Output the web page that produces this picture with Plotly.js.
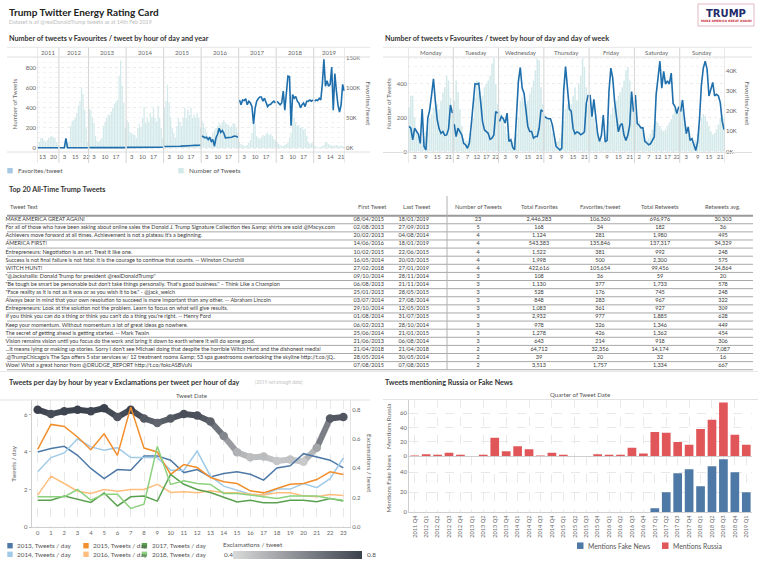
<!DOCTYPE html>
<html>
<head>
<meta charset="utf-8">
<script src="https://cdn.plot.ly/plotly-3.0.1.min.js"></script>
<style>
html,body{margin:0;padding:0;background:#fff;}
#chart{width:758px;height:569px;}
</style>
</head>
<body>
<div id="chart"></div>
<script>
// ================= DATA =================
// --- Chart 1: by hour of day and year
const years = ['2011','2012','2013','2014','2015','2016','2017','2018','2019'];
const allHours = [0,1,2,3,4,5,6,7,8,9,10,11,12,13,14,15,16,17,18,19,20,21,22,23];
const hours2011 = [10,11,12,13,14,15,16,17,18,19,20,21,22,23];
const hours2012 = [0,1,2,3,9,10,11,12,13,14,15,16,17,18,19,20,21,22,23];
const hours2019 = [0,1,2,3,8,9,10,11,12,13,14,15,16,17,18,19,20,21,22,23];
const yearHours = [hours2011, hours2012, allHours, allHours, allHours, allHours, allHours, allHours, hours2019];
const yearTickHours = [[13,20],[3,15,22],[3,10,17],[3,10,17],[3,10,17],[3,10,17],[3,10,17],[3,10,17],[3,14,21]];

const tweets2011 = [20,60,100,100,80,60,80,100,110,120,110,100,60,30];
const tweets2012 = [15,10,8,5,30,40,60,220,270,280,300,350,420,470,600,540,380,200,60];
const tweets2013 = [390,380,300,250,120,70,60,80,100,220,260,300,330,330,360,400,440,460,480,720,870,620,450,200];
const tweets2014 = [280,250,160,150,140,130,100,200,240,200,300,410,250,300,260,350,310,400,300,260,420,300,200,100];
const tweets2015 = [400,470,630,450,300,200,150,100,220,300,260,220,300,400,300,380,330,400,300,330,300,350,300,200];
const tweets2016 = [270,250,200,150,120,100,110,150,180,200,220,250,230,260,280,250,240,230,210,220,250,240,200,150];
const tweets2017 = [60,40,30,20,20,30,50,80,150,250,240,120,100,90,110,130,120,140,150,130,140,120,90,70];
const tweets2018 = [60,40,30,20,20,30,40,60,100,150,330,300,250,220,230,200,210,180,190,120,60,40,50,60];
const tweets2019 = [20,15,10,8,10,20,30,60,55,40,30,25,20,25,30,25,20,25,20,15];
const yearTweets = [tweets2011,tweets2012,tweets2013,tweets2014,tweets2015,tweets2016,tweets2017,tweets2018,tweets2019];

const favs2011 = [400,450,500,450,400,450,500,450,400,450,500,450,400,450];
const favs2012 = [400,400,400,500,16000,600,500,500,500,500,500,500,500,500,500,500,500,500,500];
const favs2013 = [700,700,650,600,600,600,600,700,700,700,700,700,700,700,700,700,700,700,700,700,700,700,700,700];
const favs2014 = [1000,1000,1000,1000,1000,1000,1000,1100,1100,1100,1100,1100,1200,1200,1200,1200,1200,1200,1200,1200,1300,1300,1300,1300];
const favs2015 = [2500,2500,2000,2200,2000,1800,2000,2500,2800,3000,3000,3200,3500,3500,3800,4000,4000,4200,4200,4300,4500,4300,4400,4500];
const favs2016 = [20000,19000,17000,18000,14000,18000,11000,14000,3000,17000,23000,33000,26000,29000,25000,17000,17000,18000,18000,18000,19000,20000,19000,18000];
const favs2017 = [80000,72000,80000,79000,82000,72000,78000,75000,69000,40000,66000,78000,82000,85000,85000,78000,83000,75000,69000,72000,73000,76000,78000,75000];
const favs2018 = [78000,75000,72000,75000,95000,63000,89000,120000,119000,37000,89000,83000,86000,78000,75000,67000,72000,75000,69000,78000,78000,80000,78000,80000];
const favs2019 = [78000,80000,79000,83000,80000,106000,148000,103000,112000,103000,106000,135000,63000,124000,95000,72000,60000,72000,106000,95000];
const yearFavs = [favs2011,favs2012,favs2013,favs2014,favs2015,favs2016,favs2017,favs2018,favs2019];

// --- Chart 2: by hour of day and day of week
const dayNames = ['Monday','Tuesday','Wednesday','Thursday','Friday','Saturday','Sunday'];
const dayTickHours = [[3,9,15,21],[2,7,12,17,22],[3,9,15,21],[3,9,15,21],[3,9,15,21],[2,7,12,17,22],[3,9,15,21]];
const tweetsMon = [260,330,330,200,130,100,80,70,90,120,150,200,220,260,300,280,250,300,350,380,450,420,320,250];
const tweetsTue = [300,420,350,250,150,80,60,60,80,110,200,320,420,350,300,330,380,400,420,450,520,550,400,280];
const tweetsWed = [240,220,200,150,100,70,50,60,80,100,200,300,320,300,280,300,340,380,420,480,550,540,380,280];
const tweetsThu = [220,200,200,160,110,80,60,60,80,100,180,250,280,300,280,330,380,300,400,450,550,500,380,280];
const tweetsFri = [240,230,200,150,100,70,60,60,80,100,180,220,260,280,300,330,350,380,420,480,500,420,320,260];
const tweetsSat = [230,200,180,150,110,80,70,80,100,130,160,180,170,150,130,120,130,150,170,190,220,250,250,230];
const tweetsSun = [300,250,200,150,100,70,60,60,70,100,150,200,220,210,180,150,120,100,110,130,160,200,220,200];
const dayTweets = [tweetsMon,tweetsTue,tweetsWed,tweetsThu,tweetsFri,tweetsSat,tweetsSun];
const favsMon = [12400,11500,5800,11500,10000,8600,4000,21000,2500,800,16500,20600,28000,36000,24800,15700,11200,9000,9900,8000,8200,11200,23000,19000];
const favsTue = [13500,7400,11500,9900,8200,4000,3300,1600,4000,13000,23000,33500,33300,33800,24700,14800,10700,9900,9000,6000,6600,8200,19800,19000];
const favsWed = [14900,17300,16200,14000,19000,5000,5800,2000,800,21500,34600,41600,31400,28900,19000,12400,9900,9900,6600,7400,7400,11500,20600,19800];
const favsThu = [17300,16500,16200,16200,13200,7400,2500,1600,800,1600,30000,42000,33000,21000,20000,11300,8800,9700,9300,8300,8800,9700,23800,28000];
const favsFri = [28000,17200,25800,16300,8800,5000,8000,18000,4700,5500,29700,41300,36300,24700,16300,9700,13000,13800,8000,5500,8000,13000,29700,19700];
const favsSat = [28000,13800,13000,11700,11700,5000,4300,3300,3800,5500,7200,28000,36300,44700,31300,39700,33300,35000,33300,38800,23800,22200,18800,22200];
const favsSun = [19700,25500,16300,8800,12200,5500,6300,3000,500,4700,16300,33000,41300,44700,40800,27500,30800,34200,27500,28300,27500,24200,15000,10800];
const dayFavs = [favsMon,favsTue,favsWed,favsThu,favsFri,favsSat,favsSun];

// --- Table: Top 20 all-time tweets
const tweetText = [
 "MAKE AMERICA GREAT AGAIN!",
 "For all of those who have been asking about online sales the Donald J. Trump Signature Collection ties &amp; shirts are sold @Macys.com",
 "Achievers move forward at all times. Achievement is not a plateau it's a beginning.",
 "AMERICA FIRST!",
 "Entrepreneurs: Negotiation is an art. Treat it like one.",
 "Success is not final failure is not fatal: it is the courage to continue that counts. -- Winston Churchill",
 "WITCH HUNT!",
 "\"@Jackshallis: Donald Trump for president @realDonaldTrump\"",
 "\"Be tough be smart be personable but don't take things personally. That's good business.\" – Think Like a Champion",
 "\"Face reality as it is not as it was or as you wish it to be.\" - @jack_welch",
 "Always bear in mind that your own resolution to succeed is more important than any other. -- Abraham Lincoln",
 "Entrepreneurs: Look at the solution not the problem. Learn to focus on what will give results.",
 "If you think you can do a thing or think you can't do a thing you're right. -- Henry Ford",
 "Keep your momentum. Without momentum a lot of great ideas go nowhere.",
 "The secret of getting ahead is getting started. -- Mark Twain",
 "Vision remains vision until you focus do the work and bring it down to earth where it will do some good.",
 "...it means lying or making up stories. Sorry I don't see Michael doing that despite the horrible Witch Hunt and the dishonest media!",
 ".@TrumpChicago's The Spa offers 5 star services w/ 12 treatment rooms &amp; 53 spa guestrooms overlooking the skyline http://t.co/jQ..",
 "Wow! What a great honor from @DRUDGE_REPORT http://t.co/fokcASBVuN"
];
const firstTweet = ["08/04/2015","02/08/2013","20/02/2013","14/06/2016","10/02/2015","16/05/2014","27/02/2018","09/10/2014","06/08/2013","25/01/2013","03/07/2014","29/10/2014","01/08/2014","06/02/2013","25/06/2014","21/06/2013","21/04/2018","28/05/2014","07/08/2015"];
const lastTweet = ["18/01/2019","27/09/2013","04/08/2014","18/01/2019","22/06/2015","20/03/2015","27/01/2019","28/11/2014","21/11/2014","28/05/2015","27/08/2014","12/05/2015","31/07/2015","28/10/2014","21/01/2015","06/08/2014","21/04/2018","30/05/2014","07/08/2015"];
const numTweets = [23,5,4,4,4,4,4,3,3,3,3,3,3,3,3,3,2,2,2];
const totalFavorites = [2446283,168,1124,543383,1522,1998,422616,108,1130,528,848,1083,2932,978,1278,643,64712,39,3513];
const favoritesPerTweet = [106360,34,281,135846,381,500,105654,36,377,176,283,361,977,326,426,214,32356,20,1757];
const totalRetweets = [696976,182,1980,137317,992,2300,99456,59,1733,745,967,927,1885,1346,1362,918,14174,32,1334];
const retweetsAvg = [30303,36,495,34329,248,575,24864,20,578,248,322,309,628,449,454,306,7087,16,667];
const tableHeaders = ['Tweet Text','First Tweet','Last Tweet','Number of Tweets','Total Favorites','Favorites/tweet','Total Retweets','Retweets avg.'];

// --- Chart 3: tweets per day by hour by year, and exclamations per tweet
const hoursOfDay = allHours;
const exclamationsPerTweet = [0.80,0.77,0.79,0.80,0.79,0.81,0.75,0.80,0.74,0.71,0.74,0.77,0.76,0.72,0.62,0.51,0.475,0.48,0.45,0.46,0.445,0.54,0.74,0.75];
const perDay2013 = [4.0,4.18,4.3,3.82,3.12,2.58,3.06,3.03,3.79,3.79,3.56,2.9,3.06,2.67,2.85,2.94,2.81,2.5,3.15,3.26,3.91,3.73,3.56,3.15];
const perDay2014 = [2.94,3.7,3.95,4.7,4.27,4.09,4.23,3.7,3.7,3.7,3.03,3.03,4.05,2.71,2.18,1.96,1.75,1.7,2.02,2.02,2.32,2.1,2.58,3.68];
const perDay2015 = [4.14,5.47,5.36,4.8,4.12,4.97,3.82,6.39,4.21,4.0,2.81,3.33,3.17,2.64,2.41,2.32,1.93,1.82,2.05,2.28,2.32,2.53,2.94,2.8];
const perDay2016 = [1.7,2.71,2.32,1.91,1.79,2.0,1.91,2.0,2.0,2.28,1.84,1.88,1.82,1.93,1.82,1.82,1.75,1.7,1.82,1.82,1.66,1.61,1.73,1.68];
const perDay2017 = [1.43,1.43,1.65,1.47,1.31,1.82,1.12,1.61,1.65,1.38,2.81,2.28,2.0,1.84,1.58,1.33,1.43,1.29,1.29,1.43,1.43,1.35,1.52,1.38];
const perDay2018 = [1.61,1.61,1.61,2.0,1.43,1.75,1.75,0.99,1.22,4.3,2.27,2.46,2.32,2.27,1.79,1.79,1.7,1.65,1.52,1.65,1.65,1.65,1.52,1.43];
const perDayNames = ['2013, Tweets / day','2014, Tweets / day','2015, Tweets / day','2016, Tweets / day','2017, Tweets / day','2018, Tweets / day'];
const perDaySeries = [perDay2013,perDay2014,perDay2015,perDay2016,perDay2017,perDay2018];
const perDayColors = ['#4e79a7','#a0cbe8','#f28e2b','#ffbe7d','#59a14f','#8cd17d'];

// --- Chart 4: Russia / Fake News mentions by quarter
const quarters = ['2011 Q4','2012 Q1','2012 Q2','2012 Q3','2012 Q4','2013 Q1','2013 Q2','2013 Q3','2013 Q4','2014 Q1','2014 Q2','2014 Q3','2014 Q4','2015 Q1','2015 Q2','2015 Q3','2015 Q4','2016 Q1','2016 Q2','2016 Q3','2016 Q4','2017 Q1','2017 Q2','2017 Q3','2017 Q4','2018 Q1','2018 Q2','2018 Q3','2018 Q4','2019 Q1'];
const mentionsRussia = [1,3,2,5,2,0,2,26,7,14,10,1,5,2,0,0,3,2,2,12,4,34,33,20,16,38,51,75,30,16];
const mentionsFakeNews = [0,0,0,0,0,0,0,0,0,0,0,0,0,0,0,0,0,0,0,0,0,4,20,39,43,26,46,53,40,20];

// ================= BUILD =================
const F = 'Lato, "Open Sans", sans-serif';
const W = 758, H = 569;
const px = v => v / W;
const py = v => 1 - v / H;
const tickFont = {family: F, size: 5.9, color: '#666'};
const axisTitleFont = {family: F, size: 6.3, color: '#666'};
const legendFont = {family: F, size: 6.4, color: '#555'};
const traces = [], shapes = [], annotations = [];

function note(text, x, y, o) {
  annotations.push(Object.assign({text: text, x: px(x), y: py(y), xref: 'paper', yref: 'paper', showarrow: false,
    xanchor: 'left', yanchor: 'middle', font: {family: F, size: 5.6, color: '#555'}}, o || {}));
}
function hline(x0, x1, y, color, width) {
  shapes.push({type: 'line', xref: 'paper', yref: 'paper', x0: px(x0), x1: px(x1), y0: py(y), y1: py(y), line: {color: color, width: width || 1}});
}
function vline(x, y0, y1, color, width) {
  shapes.push({type: 'line', xref: 'paper', yref: 'paper', x0: px(x), x1: px(x), y0: py(y0), y1: py(y1), line: {color: color, width: width || 1}});
}
function swatch(x, y, s, color) {
  shapes.push({type: 'rect', xref: 'paper', yref: 'paper', x0: px(x), x1: px(x + s), y0: py(y + s / 2), y1: py(y - s / 2), fillcolor: color, line: {width: 0}});
}

// Header
note('<b>Trump Twitter Energy Rating Card</b>', 6.5, 12, {font: {family: F, size: 10, color: '#222'}});
note('Dataset is all @realDonaldTrump tweets as at 14th Feb 2019', 6.5, 21.5, {font: {family: F, size: 5.4, color: '#bdbdbd'}});
shapes.push({type: 'rect', xref: 'paper', yref: 'paper', x0: px(698), x1: px(754), y0: py(26), y1: py(4), line: {color: '#dcaab2', width: 0.8}, fillcolor: '#fff'});
note('<b>TRUMP</b>', 726, 13.5, {xanchor: 'center', font: {family: 'DejaVu Sans, sans-serif', size: 10, color: '#1f2b6b'}});
note('<b>MAKE AMERICA GREAT AGAIN!</b>', 726, 21, {xanchor: 'center', font: {family: 'DejaVu Sans, sans-serif', size: 3, color: '#c8283c'}});

// Section titles
const titleFont = {family: F, size: 7.2, color: '#333'};
note('<b>Number of tweets v Favourites / tweet by hour of day and year</b>', 6.5, 38.5, {font: titleFont});
note('<b>Number of tweets v Favourites / tweet by hour of day and day of week</b>', 382.5, 38.5, {font: titleFont});
note('<b>Top 20 All-Time Trump Tweets</b>', 6.5, 189.5, {font: titleFont});
note('<b>Tweets per day by hour by year v Exclamations per tweet per hour of day</b>', 6.5, 382, {font: titleFont});
note('<i>(2019 not enough data)</i>', 252.5, 382.3, {font: {family: F, size: 4.8, color: '#c4c4c4'}});
note('<b>Tweets mentioning Russia or Fake News</b>', 382.5, 382, {font: titleFont});
hline(0, 758, 371.5, '#e8e8e8', 1);

// ---- Chart 1
let pos = 0;
const c1x = [], c1y = [], c1lx = [], c1ly = [], c1tv = [], c1tt = [];
years.forEach((yr, i) => {
  const start = pos;
  shapes.push({type: 'line', xref: 'x', yref: 'paper', x0: start - 0.5, x1: start - 0.5, y0: py(163), y1: py(47), line: {color: '#d4d4d4', width: 1}});
  yearHours[i].forEach((h, j) => {
    c1x.push(pos); c1y.push(yearTweets[i][j]);
    c1lx.push(pos); c1ly.push(yearFavs[i][j]);
    if (yearTickHours[i].indexOf(h) >= 0) { c1tv.push(pos); c1tt.push(String(h)); }
    pos++;
  });
  c1lx.push(null); c1ly.push(null);
  annotations.push({text: yr, xref: 'x', yref: 'paper', x: (start + pos - 1) / 2, y: py(52.3), showarrow: false, yanchor: 'middle', font: {family: F, size: 6, color: '#666'}});
});
const n1 = pos;
shapes.push({type: 'line', xref: 'x', yref: 'paper', x0: n1 - 0.5, x1: n1 - 0.5, y0: py(163), y1: py(47), line: {color: '#d4d4d4', width: 1}});
traces.push({type: 'bar', x: c1x, y: c1y, xaxis: 'x', yaxis: 'y', width: 0.8, marker: {color: '#d3e9ea', line: {width: 0}}, name: 'Number of Tweets', hoverinfo: 'skip'});
traces.push({type: 'scatter', mode: 'lines', x: c1lx, y: c1ly, xaxis: 'x', yaxis: 'y2', connectgaps: false, line: {color: '#1f6fad', width: 1.6}, name: 'Favorites/tweet', hoverinfo: 'skip'});
hline(7, 370, 47.3, '#e6e6e6', 1);
hline(7, 370, 57, '#dedede', 1);
hline(7, 370, 152, '#dedede', 1);
note('Number of Tweets', 13.5, 104, {xanchor: 'center', textangle: -90, font: axisTitleFont});
note('Favorites/tweet', 368.5, 104, {xanchor: 'center', textangle: 90, font: axisTitleFont});
swatch(7.3, 170.7, 5.4, '#a6c8e2'); note('Favorites/tweet', 15.5, 170.7, {font: legendFont});
swatch(178.3, 170.7, 5.4, '#d3e9ea'); note('Number of Tweets', 186.5, 170.7, {font: legendFont});

// ---- Chart 2
pos = 0;
const c2x = [], c2y = [], c2lx = [], c2ly = [], c2tv = [], c2tt = [];
dayNames.forEach((d, i) => {
  const start = pos;
  shapes.push({type: 'line', xref: 'x2', yref: 'paper', x0: start - 0.5, x1: start - 0.5, y0: py(163), y1: py(47), line: {color: '#d4d4d4', width: 1}});
  allHours.forEach((h, j) => {
    c2x.push(pos); c2y.push(dayTweets[i][j]);
    c2lx.push(pos); c2ly.push(dayFavs[i][j]);
    if (dayTickHours[i].indexOf(h) >= 0) { c2tv.push(pos); c2tt.push(String(h)); }
    pos++;
  });
  c2lx.push(null); c2ly.push(null);
  annotations.push({text: d, xref: 'x2', yref: 'paper', x: (start + pos - 1) / 2, y: py(52.3), showarrow: false, yanchor: 'middle', font: {family: F, size: 6, color: '#666'}});
});
const n2 = pos;
shapes.push({type: 'line', xref: 'x2', yref: 'paper', x0: n2 - 0.5, x1: n2 - 0.5, y0: py(163), y1: py(47), line: {color: '#d4d4d4', width: 1}});
traces.push({type: 'bar', x: c2x, y: c2y, xaxis: 'x2', yaxis: 'y3', width: 0.8, marker: {color: '#d3e9ea', line: {width: 0}}, name: 'Number of Tweets', hoverinfo: 'skip'});
traces.push({type: 'scatter', mode: 'lines', x: c2lx, y: c2ly, xaxis: 'x2', yaxis: 'y4', connectgaps: false, line: {color: '#1f6fad', width: 1.6}, name: 'Favorites/tweet', hoverinfo: 'skip'});
hline(383, 752, 47.3, '#e6e6e6', 1);
hline(383, 752, 57, '#dedede', 1);
hline(383, 752, 152.5, '#dedede', 1);
note('Number of Tweets', 388, 104, {xanchor: 'center', textangle: -90, font: axisTitleFont});
note('Favorites/tweet', 747.5, 104, {xanchor: 'center', textangle: 90, font: axisTitleFont});

// ---- Table (text traces on hidden axis; row index = y)
const rowIdx = tweetText.map((t, i) => i);
const colX = [5.5, 353.5, 398.5, 478, 539, 600, 660, 723];
const fmt = v => v.toLocaleString('en-US');
const esc = s => s.replace(/&/g, '&amp;');
const tableCols = [tweetText.map(esc), firstTweet, lastTweet, numTweets.map(fmt), totalFavorites.map(fmt), favoritesPerTweet.map(fmt), totalRetweets.map(fmt), retweetsAvg.map(fmt)];
tableCols.forEach((col, c) => {
  traces.push({type: 'scatter', mode: 'text', x: rowIdx.map(() => colX[c]), y: rowIdx, text: col, xaxis: 'x6', yaxis: 'y9',
    textposition: c < 3 ? 'middle right' : 'middle center', cliponaxis: false, hoverinfo: 'skip',
    textfont: {family: F, size: 5.5, color: '#3a3a3a'}});
});
const headerX = [8, 356, 401, 478, 539, 600, 660, 723];
tableHeaders.forEach((h, c) => note(h, headerX[c], 206.3, {xanchor: c < 3 ? 'left' : 'center', font: {family: F, size: 5.8, color: '#555'}}));
for (let k = 0; k <= tweetText.length; k++) {
  shapes.push({type: 'line', xref: 'paper', yref: 'y9', x0: px(7), x1: px(753), y0: k - 0.5, y1: k - 0.5,
    line: {color: k === 0 ? '#9a9a9a' : '#a9a9a9', width: k === 0 ? 2 : 1}});
}
vline(447, 196, 370, '#b0b0b0', 1);

// ---- Chart 3
const c0 = [218, 218, 218], c1 = [60, 66, 77];
const shade = v => { const t = Math.max(0, Math.min(1, (v - 0.4) / 0.4)); return 'rgb(' + c0.map((a, i) => Math.round(a + (c1[i] - a) * t)).join(',') + ')'; };
for (let i = 0; i < hoursOfDay.length - 1; i++) {
  traces.push({type: 'scatter', mode: 'lines', x: [hoursOfDay[i], hoursOfDay[i + 1]], y: [exclamationsPerTweet[i], exclamationsPerTweet[i + 1]],
    xaxis: 'x3', yaxis: 'y5', line: {color: shade((exclamationsPerTweet[i] + exclamationsPerTweet[i + 1]) / 2), width: 6}, hoverinfo: 'skip'});
}
traces.push({type: 'scatter', mode: 'markers', x: hoursOfDay, y: exclamationsPerTweet, xaxis: 'x3', yaxis: 'y5', name: 'Exclamations / tweet', hoverinfo: 'skip',
  marker: {size: 8.5, color: exclamationsPerTweet, cmin: 0.4, cmax: 0.8, colorscale: [[0, 'rgb(218,218,218)'], [1, 'rgb(60,66,77)']], showscale: true,
    colorbar: {orientation: 'h', x: px(297.5), xanchor: 'center', y: py(554.5), yanchor: 'middle', len: 129, lenmode: 'pixels', thickness: 8,
      outlinewidth: 0, showticklabels: false, ticks: '', xpad: 0, ypad: 0, title: {text: ''}}}});
perDaySeries.forEach((s, i) => {
  traces.push({type: 'scatter', mode: 'lines', x: hoursOfDay, y: s, xaxis: 'x3', yaxis: 'y6', name: perDayNames[i], line: {color: perDayColors[i], width: 1.5}, hoverinfo: 'skip'});
});
note('Tweet Date', 191.5, 395, {xanchor: 'center', font: {family: F, size: 6.1, color: '#555'}});
note('Tweets / day', 12.7, 464, {xanchor: 'center', textangle: -90, font: axisTitleFont});
note('Exclamations / tweet', 370, 463, {xanchor: 'center', textangle: 90, font: axisTitleFont});
hline(0, 370, 400, '#e3e3e3', 1);
const legendPos3 = [[7.3, 545.7], [7.3, 554.3], [83.3, 545.7], [83.3, 554.3], [141.7, 545.7], [141.7, 554.3]];
perDayNames.forEach((nm, i) => { swatch(legendPos3[i][0], legendPos3[i][1], 5.4, perDayColors[i]); note(nm, legendPos3[i][0] + 7.8, legendPos3[i][1], {font: legendFont}); });
note('Exclamations / tweet', 221, 544.7, {font: legendFont});
note('0.4', 222, 554.5, {font: legendFont});
note('0.8', 364.5, 554.5, {font: legendFont});

// ---- Chart 4
traces.push({type: 'bar', x: quarters, y: mentionsRussia, xaxis: 'x5', yaxis: 'y8', name: 'Mentions Russia', width: 0.76, marker: {color: '#e15759', line: {width: 0}}, hoverinfo: 'skip'});
traces.push({type: 'bar', x: quarters, y: mentionsFakeNews, xaxis: 'x4', yaxis: 'y7', name: 'Mentions Fake News', width: 0.76, marker: {color: '#4e79a7', line: {width: 0}}, hoverinfo: 'skip'});
note('Quarter of Tweet Date', 580, 394.5, {xanchor: 'center', font: {family: F, size: 6.1, color: '#555'}});
note('Mentions Russia', 388, 427, {xanchor: 'center', textangle: -90, font: axisTitleFont});
note('Mentions Fake News', 388, 483.5, {xanchor: 'center', textangle: -90, font: axisTitleFont});
hline(383, 758, 399.5, '#e3e3e3', 1);
swatch(577, 545.7, 6.5, '#4e79a7'); note('Mentions Fake News', 586, 545.7, {font: {family: F, size: 6.8, color: '#555'}});
swatch(662, 545.7, 6.5, '#e15759'); note('Mentions Russia', 671, 545.7, {font: {family: F, size: 6.8, color: '#555'}});

// ================= LAYOUT =================
const base = {tickfont: tickFont, zeroline: false, showline: false, fixedrange: true, ticks: ''};
const layout = {
  width: W, height: H, margin: {l: 0, r: 0, t: 0, b: 0}, showlegend: false,
  paper_bgcolor: '#ffffff', plot_bgcolor: 'rgba(0,0,0,0)', font: {family: F, size: 5.6, color: '#666'},
  // chart 1
  xaxis: Object.assign({}, base, {domain: [px(37), px(345)], range: [-0.5, n1 - 0.5], tickvals: c1tv, ticktext: c1tt, showgrid: false, anchor: 'y'}),
  yaxis: Object.assign({}, base, {domain: [py(152), py(57)], range: [-39.8, 906], tickvals: [0, 200, 400, 600, 800], anchor: 'x',
    showgrid: true, gridcolor: '#ececec', griddash: 'dot', gridwidth: 1, minor: {dtick: 50, showgrid: true, gridcolor: '#f3f3f3', griddash: 'dot'}}),
  yaxis2: Object.assign({}, base, {overlaying: 'y', side: 'right', anchor: 'x', range: [-6667, 151667], tickvals: [0, 50000, 100000, 150000], ticktext: ['0K', '50K', '100K', '150K'], showgrid: false}),
  // chart 2
  xaxis2: Object.assign({}, base, {domain: [px(408), px(725)], range: [-0.5, n2 - 0.5], tickvals: c2tv, ticktext: c2tt, showgrid: false, anchor: 'y3'}),
  yaxis3: Object.assign({}, base, {domain: [py(152.5), py(57)], range: [-6, 559], tickvals: [0, 200, 400], anchor: 'x2',
    showgrid: true, gridcolor: '#ececec', griddash: 'dot', minor: {dtick: 50, showgrid: true, gridcolor: '#f3f3f3', griddash: 'dot'}}),
  yaxis4: Object.assign({}, base, {overlaying: 'y3', side: 'right', anchor: 'x2', range: [-500, 46780], tickvals: [0, 10000, 20000, 30000, 40000], ticktext: ['0K', '10K', '20K', '30K', '40K'], showgrid: false}),
  // chart 3
  xaxis3: Object.assign({}, base, {domain: [px(31.7), px(350)], range: [-0.45, 23.5], tickvals: hoursOfDay, anchor: 'y5',
    showgrid: true, gridcolor: '#e2e2e2', griddash: 'dash', gridwidth: 0.8, showline: true, linecolor: '#cfcfcf', linewidth: 1}),
  yaxis5: Object.assign({}, base, {domain: [py(527), py(400)], range: [0, 0.866], tickvals: [0, 0.2, 0.4, 0.6, 0.8], ticktext: ['0.0', '0.2', '0.4', '0.6', '0.8'],
    side: 'right', anchor: 'x3', showgrid: false, showline: true, linecolor: '#e3e3e3'}),
  yaxis6: Object.assign({}, base, {overlaying: 'y5', side: 'left', anchor: 'x3', range: [0, 6.77], tickvals: [0, 2, 4, 6], showgrid: false,
    showline: true, linecolor: '#cfcfcf', ticks: 'outside', ticklen: 2, tickcolor: '#bbb'}),
  // chart 4
  xaxis4: Object.assign({}, base, {type: 'category', categoryorder: 'array', categoryarray: quarters, domain: [px(409), px(752)], range: [-0.5, 29.5],
    anchor: 'y7', tickangle: -90, tickfont: {family: F, size: 5.6, color: '#666'}, showgrid: true, gridcolor: '#e4e4e4', griddash: 'dash', gridwidth: 0.8,
    showline: true, linecolor: '#cfcfcf'}),
  yaxis7: Object.assign({}, base, {domain: [py(512.3), py(456.3)], range: [0, 56], tickvals: [0, 20, 40], anchor: 'x4',
    showgrid: true, gridcolor: '#e8e8e8', griddash: 'dash', showline: true, linecolor: '#cfcfcf'}),
  xaxis5: Object.assign({}, base, {type: 'category', categoryorder: 'array', categoryarray: quarters, domain: [px(409), px(752)], range: [-0.5, 29.5],
    anchor: 'y8', showticklabels: false, showgrid: true, gridcolor: '#e4e4e4', griddash: 'dash', gridwidth: 0.8, showline: true, linecolor: '#cfcfcf'}),
  yaxis8: Object.assign({}, base, {domain: [py(456.3), py(399.3)], range: [0, 79.5], tickvals: [0, 20, 40, 60], anchor: 'x5',
    showgrid: true, gridcolor: '#e8e8e8', griddash: 'dash', showline: true, linecolor: '#cfcfcf'}),
  // table
  xaxis6: {domain: [0, 1], range: [0, W], visible: false, fixedrange: true, anchor: 'y9'},
  yaxis9: {domain: [py(372), py(199)], range: [(372 - 219.7) / 8.11, (199 - 219.7) / 8.11], visible: false, fixedrange: true, anchor: 'x6'},
  shapes: shapes,
  annotations: annotations
};

Plotly.newPlot('chart', traces, layout, {staticPlot: true, displayModeBar: false});
</script>
</body>
</html>
